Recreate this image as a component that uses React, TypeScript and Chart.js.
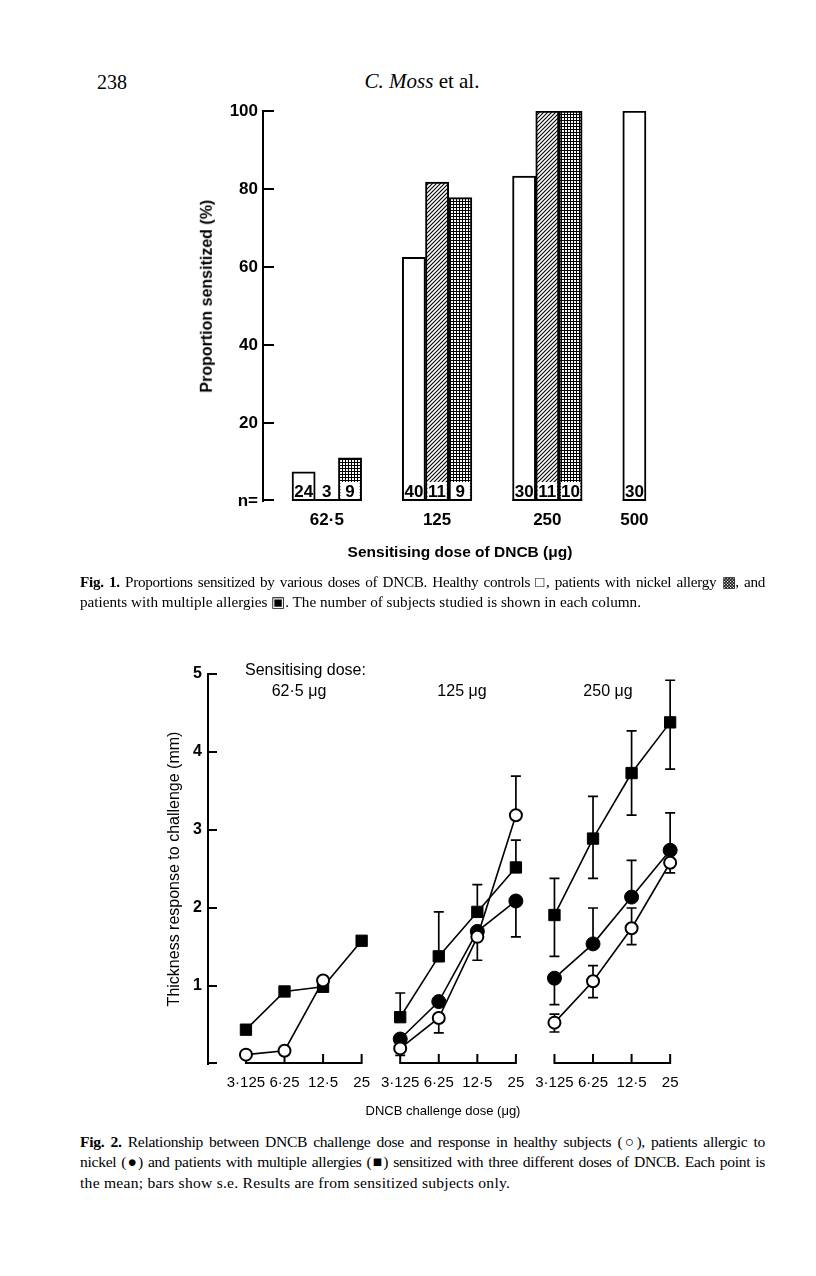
import React, { useEffect, useRef } from 'react';
import { Chart, registerables } from 'chart.js';

Chart.register(...registerables);

// ---------- Fig. 1 data ----------
const sensitisingDoseLabels = ['62·5', '125', '250', '500'];
const healthyPercent: (number | null)[] = [7.5, 62.5, 83.3, 100];
const nickelPercent: (number | null)[] = [0, 81.8, 100, null];
const multiplePercent: (number | null)[] = [11.1, 77.8, 100, null];
const healthyCount: (number | null)[] = [24, 40, 30, 30];
const nickelCount: (number | null)[] = [3, 11, 11, null];
const multipleCount: (number | null)[] = [9, 9, 10, null];
const percentTicks = [0, 20, 40, 60, 80, 100];

// ---------- Fig. 2 data ----------
const challengeDoseLabels = ['3·125', '6·25', '12·5', '25'];
const panelLabels = ['62·5 μg', '125 μg', '250 μg'];
const responseTicks = [1, 2, 3, 4, 5];
// [sensitising dose panel][challenge dose]
const healthyMean: (number | null)[][] = [[0.12, 0.17, 1.07, null], [0.2, 0.59, 1.63, 3.19], [0.53, 1.06, 1.74, 2.58]];
const healthyErrUp = [[0, 0, 0, 0], [0, 0, 0, 0.5], [0.11, 0.2, 0.26, 0]];
const healthyErrDown = [[0, 0, 0, 0], [0.09, 0.19, 0.3, 0], [0.12, 0.21, 0.21, 0.13]];
const nickelMean: (number | null)[][] = [[null, null, null, null], [0.32, 0.8, 1.7, 2.09], [1.1, 1.54, 2.14, 2.74]];
const nickelErrUp = [[0, 0, 0, 0], [0, 0, 0, 0], [0, 0.46, 0.47, 0.48]];
const nickelErrDown = [[0, 0, 0, 0], [0, 0, 0, 0.46], [0.34, 0, 0, 0]];
const multipleMean: (number | null)[][] = [[0.44, 0.93, 0.99, 1.58], [0.6, 1.38, 1.95, 2.52], [1.91, 2.89, 3.73, 4.38]];
const multipleErrUp = [[0, 0, 0, 0], [0.31, 0.57, 0.35, 0.35], [0.47, 0.54, 0.54, 0.54]];
const multipleErrDown = [[0, 0, 0, 0], [0, 0, 0, 0], [0.53, 0.51, 0.54, 0.6]];

const SANS = '"Liberation Sans", Arial, sans-serif';
const SERIF = '"Liberation Serif", "Times New Roman", serif';

function makePattern(kind: 'hatch' | 'dots'): CanvasPattern | string {
  const size = kind === 'hatch' ? 4 : 3;
  const tile = document.createElement('canvas');
  tile.width = size;
  tile.height = size;
  const c = tile.getContext('2d')!;
  c.fillStyle = '#fff';
  c.fillRect(0, 0, size, size);
  c.fillStyle = '#000';
  if (kind === 'dots') {
    c.fillRect(0, 0, size, 1);
    c.fillRect(0, 0, 1, size);
  } else {
    c.strokeStyle = '#000';
    c.lineWidth = 1.1;
    c.beginPath();
    c.moveTo(-1, 5); c.lineTo(5, -1);
    c.moveTo(-1, 1); c.lineTo(1, -1);
    c.moveTo(3, 5); c.lineTo(5, 3);
    c.stroke();
  }
  return c.createPattern(tile, 'repeat') || '#888';
}

function Fig1() {
  const ref = useRef<HTMLCanvasElement>(null);
  useEffect(() => {
    const canvas = ref.current!;
    const series = [healthyPercent, nickelPercent, multiplePercent];
    const counts = [healthyCount, nickelCount, multipleCount];
    const names = ['Healthy controls', 'Nickel allergy', 'Multiple allergies'];
    const fills = ['#ffffff', makePattern('hatch'), makePattern('dots')];
    const GAP = 1.75;
    const centers: number[] = [];
    let cursor = 0;
    sensitisingDoseLabels.forEach((_, i) => {
      const n = series.filter((s) => s[i] !== null).length;
      centers.push(cursor + n / 2);
      cursor += n + GAP;
    });
    const BW = 2;
    const plugin = {
      id: 'fig1extras',
      afterDatasetsDraw(chart: any) {
        const ctx = chart.ctx;
        ctx.save();
        series.forEach((s, di) => {
          const meta = chart.getDatasetMeta(di);
          meta.data.forEach((bar: any, j: number) => {
            const n = counts[di][j];
            if (n === null || s[j] === null) return;
            const { x, base, width } = bar.getProps(['x', 'base', 'width'], true);
            const left = x - width / 2;
            if (di > 0) {
              ctx.fillStyle = '#fff';
              ctx.fillRect(left + BW, base - 19, width - 2 * BW, 19 - BW);
            }
            ctx.strokeStyle = '#000';
            ctx.lineWidth = BW;
            ctx.beginPath();
            ctx.moveTo(left, base - BW / 2);
            ctx.lineTo(left + width, base - BW / 2);
            ctx.stroke();
            ctx.fillStyle = '#000';
            ctx.font = `bold 17px ${SANS}`;
            ctx.textAlign = 'center';
            ctx.textBaseline = 'middle';
            ctx.fillText(String(n), x, base - 9);
          });
        });
        const y = chart.scales.y;
        const l = chart.chartArea.left;
        ctx.strokeStyle = '#000';
        ctx.lineWidth = 2;
        percentTicks.forEach((v) => {
          const py = Math.round(y.getPixelForValue(v)) + (v === 0 ? -1 : 0);
          ctx.beginPath();
          ctx.moveTo(l - 1, py);
          ctx.lineTo(l + 11, py);
          ctx.stroke();
        });
        ctx.restore();
      },
    };
    const chart = new Chart(canvas, {
      type: 'bar',
      data: {
        datasets: series.map((s, di) => ({
          label: names[di],
          data: sensitisingDoseLabels.map((_, i) => ({ x: centers[i], y: s[i] })),
          backgroundColor: fills[di] as any,
          borderColor: '#000',
          borderWidth: BW,
          borderSkipped: false,
          barThickness: 23.2,
          skipNull: true,
        })) as any,
      },
      options: {
        responsive: false,
        animation: false,
        layout: { padding: { top: 21, right: 15, left: 0, bottom: 0 } },
        plugins: { legend: { display: false }, tooltip: { enabled: false } },
        scales: {
          x: {
            type: 'linear',
            min: -1.25,
            max: 16.5,
            offset: false,
            afterBuildTicks: (s: any) => { s.ticks = centers.map((v) => ({ value: v })); },
            afterFit: (s: any) => { s.height = 79; },
            grid: { display: false, drawTicks: false },
            border: { display: false },
            ticks: {
              color: '#000',
              padding: 9,
              autoSkip: false,
              maxRotation: 0,
              font: { family: SANS, size: 17, weight: 'bold' },
              callback: (_v: any, i: number) => sensitisingDoseLabels[i],
            },
          },
          y: {
            min: 0,
            max: 100,
            afterBuildTicks: (s: any) => { s.ticks = percentTicks.map((v) => ({ value: v })); },
            afterFit: (s: any) => { s.width = 113; },
            grid: { display: false, drawTicks: false },
            border: { display: true, color: '#000', width: 2 },
            ticks: {
              color: '#000',
              padding: 5,
              font: { family: SANS, size: 17, weight: 'bold' },
              callback: (v: any) => (v === 0 ? 'n=' : String(v)),
            },
          },
        } as any,
      },
      plugins: [plugin],
    });
    return () => chart.destroy();
  }, []);
  return <canvas ref={ref} width={540} height={490} style={{ position: 'absolute', left: 150, top: 90, width: 540, height: 490 }} />;
}

function Fig2() {
  const ref = useRef<HTMLCanvasElement>(null);
  useEffect(() => {
    const canvas = ref.current!;
    const means = [healthyMean, nickelMean, multipleMean];
    const ups = [healthyErrUp, nickelErrUp, multipleErrUp];
    const downs = [healthyErrDown, nickelErrDown, multipleErrDown];
    const names = ['Healthy subjects', 'Nickel allergy', 'Multiple allergies'];
    const styles = [
      { pointStyle: 'circle', pointRadius: 6, pointBackgroundColor: '#fff', pointBorderWidth: 2 },
      { pointStyle: 'circle', pointRadius: 7, pointBackgroundColor: '#000', pointBorderWidth: 1 },
      { pointStyle: 'rect', pointRadius: 8, pointBackgroundColor: '#000', pointBorderWidth: 1 },
    ];
    const slot = (g: number, i: number) => g * challengeDoseLabels.length + i;
    const datasets: any[] = [];
    means.forEach((m, si) => {
      m.forEach((row, g) => {
        if (row.every((v) => v === null)) return;
        datasets.push({
          label: `${names[si]} ${panelLabels[g]}`,
          data: row.map((v, i) => ({ x: slot(g, i), y: v })),
          borderColor: '#000',
          borderWidth: 1.6,
          pointBorderColor: '#000',
          fill: false,
          tension: 0,
          spanGaps: false,
          ...styles[si],
        });
      });
    });
    const plugin = {
      id: 'fig2extras',
      beforeDatasetsDraw(chart: any) {
        const ctx = chart.ctx;
        const xs = chart.scales.x;
        const ys = chart.scales.y;
        ctx.save();
        ctx.strokeStyle = '#000';
        ctx.lineWidth = 1.7;
        means.forEach((m, si) => {
          m.forEach((row, g) => {
            row.forEach((v, i) => {
              if (v === null) return;
              const px = xs.getPixelForValue(slot(g, i));
              const py = ys.getPixelForValue(v);
              [ups[si][g][i], -downs[si][g][i]].forEach((e) => {
                if (!e) return;
                const ey = ys.getPixelForValue(v + e);
                ctx.beginPath();
                ctx.moveTo(px, py);
                ctx.lineTo(px, ey);
                ctx.moveTo(px - 5, ey);
                ctx.lineTo(px + 5, ey);
                ctx.stroke();
              });
            });
          });
        });
        // y tick marks
        const l = chart.chartArea.left;
        ctx.lineWidth = 2;
        [0, ...responseTicks].forEach((v) => {
          const py = Math.round(ys.getPixelForValue(v)) + (v === 0 ? -1 : 0);
          ctx.beginPath();
          ctx.moveTo(l - 1, py);
          ctx.lineTo(l + 9, py);
          ctx.stroke();
        });
        // broken x axes, one per panel, ticks pointing up
        const y0 = Math.round(ys.getPixelForValue(0)) - 1;
        panelLabels.forEach((_, g) => {
          const a = xs.getPixelForValue(slot(g, 0));
          const b = xs.getPixelForValue(slot(g, challengeDoseLabels.length - 1));
          ctx.beginPath();
          ctx.moveTo(a - 1, y0);
          ctx.lineTo(b + 1, y0);
          challengeDoseLabels.forEach((__, i) => {
            const px = xs.getPixelForValue(slot(g, i));
            ctx.moveTo(px, y0);
            ctx.lineTo(px, y0 - 9);
          });
          ctx.stroke();
        });
        ctx.restore();
      },
    };
    const nSlots = panelLabels.length * challengeDoseLabels.length;
    const chart = new Chart(canvas, {
      type: 'line',
      data: { datasets },
      options: {
        responsive: false,
        animation: false,
        layout: { padding: { top: 34, right: 8.5, left: 0, bottom: 0 } },
        plugins: { legend: { display: false }, tooltip: { enabled: false } },
        scales: {
          x: {
            type: 'linear',
            min: -0.984,
            max: 11.8,
            afterBuildTicks: (s: any) => { s.ticks = Array.from({ length: nSlots }, (_, k) => ({ value: k })); },
            afterFit: (s: any) => { s.height = 66; },
            grid: { display: false, drawTicks: false },
            border: { display: false },
            ticks: {
              color: '#000',
              padding: 10,
              autoSkip: false,
              maxRotation: 0,
              font: { family: SANS, size: 15 },
              callback: (v: any) => challengeDoseLabels[Math.round(v) % challengeDoseLabels.length],
            },
          },
          y: {
            min: 0,
            max: 5,
            afterBuildTicks: (s: any) => { s.ticks = responseTicks.map((v) => ({ value: v })); },
            afterFit: (s: any) => { s.width = 58; },
            grid: { display: false, drawTicks: false },
            border: { display: true, color: '#000', width: 2 },
            title: {
              display: true,
              text: 'Thickness response to challenge (mm)',
              color: '#000',
              font: { family: SANS, size: 16 },
              padding: { top: 15, bottom: 0 },
            },
            ticks: {
              color: '#000',
              padding: 6,
              font: { family: SANS, size: 16, weight: 'bold' },
              callback: (v: any) => String(v),
            },
          },
        } as any,
      },
      plugins: [plugin],
    });
    return () => chart.destroy();
  }, []);
  return <canvas ref={ref} width={560} height={490} style={{ position: 'absolute', left: 150, top: 640, width: 560, height: 490 }} />;
}

function Txt(props: { x: number; y: number; w?: number; align?: 'left' | 'center'; size: number; bold?: boolean; family?: string; children: React.ReactNode; rotate?: boolean }) {
  const w = props.w ?? 400;
  const h = props.size * 1.4;
  const left = props.align === 'left' ? props.x : props.x - w / 2;
  return (
    <div
      style={{
        position: 'absolute',
        left: props.rotate ? props.x - w / 2 : left,
        top: props.y - h / 2,
        width: w,
        height: h,
        lineHeight: `${h}px`,
        fontSize: props.size,
        fontFamily: props.family ?? SANS,
        fontWeight: props.bold ? 'bold' : 'normal',
        textAlign: props.align ?? 'center',
        whiteSpace: 'nowrap',
        color: '#000',
        transform: props.rotate ? 'rotate(-90deg)' : undefined,
      }}
    >
      {props.children}
    </div>
  );
}

function Caption(props: { top: number; size: number; lines: React.ReactNode[]; spacing?: number[] }) {
  return (
    <div style={{ position: 'absolute', left: 80, top: props.top, width: 685, fontFamily: SERIF, fontSize: props.size, lineHeight: '20.3px', color: '#000' }}>
      {props.lines.map((ln, i) => {
        const last = i === props.lines.length - 1;
        return (
          <div
            key={i}
            style={{
              whiteSpace: 'nowrap',
              textAlign: last ? 'left' : 'justify',
              textAlignLast: last ? 'left' : 'justify',
              letterSpacing: props.spacing ? props.spacing[i] : 0,
            } as any}
          >
            {ln}
          </div>
        );
      })}
    </div>
  );
}

export default function App() {
  return (
    <div style={{ position: 'absolute', left: 0, top: 0, width: 816, height: 1276, background: '#fff', overflow: 'hidden' }}>
      <Txt x={97} y={82} align="left" size={20} family={SERIF}>238</Txt>
      <Txt x={422} y={82} size={21} family={SERIF}>
        <i>C. Moss</i> et al.
      </Txt>
      <Fig1 />
      <Txt x={207} y={296} w={260} size={16} bold rotate>Proportion sensitized (%)</Txt>
      <Txt x={460} y={552} size={15.5} bold>Sensitising dose of DNCB (μg)</Txt>
      <Caption
        top={572}
        size={15.2}
        spacing={[-0.3, 0]}
        lines={[
          <><b>Fig. 1.</b> Proportions sensitized by various doses of DNCB. Healthy controls □, patients with nickel allergy ▩, and</>,
          <>patients with multiple allergies ▣. The number of subjects studied is shown in each column.</>,
        ]}
      />
      <Fig2 />
      <Txt x={245} y={670} align="left" size={16}>Sensitising dose:</Txt>
      <Txt x={299} y={691} size={16}>{panelLabels[0]}</Txt>
      <Txt x={462} y={691} size={16}>{panelLabels[1]}</Txt>
      <Txt x={608} y={691} size={16}>{panelLabels[2]}</Txt>
      <Txt x={443} y={1111} size={13}>DNCB challenge dose (μg)</Txt>
      <Caption
        top={1132}
        size={15.6}
        spacing={[-0.3, -0.3, 0.25]}
        lines={[
          <><b>Fig. 2.</b> Relationship between DNCB challenge dose and response in healthy subjects (○), patients allergic to</>,
          <>nickel (●) and patients with multiple allergies (■) sensitized with three different doses of DNCB. Each point is</>,
          <>the mean; bars show s.e. Results are from sensitized subjects only.</>,
        ]}
      />
    </div>
  );
}
